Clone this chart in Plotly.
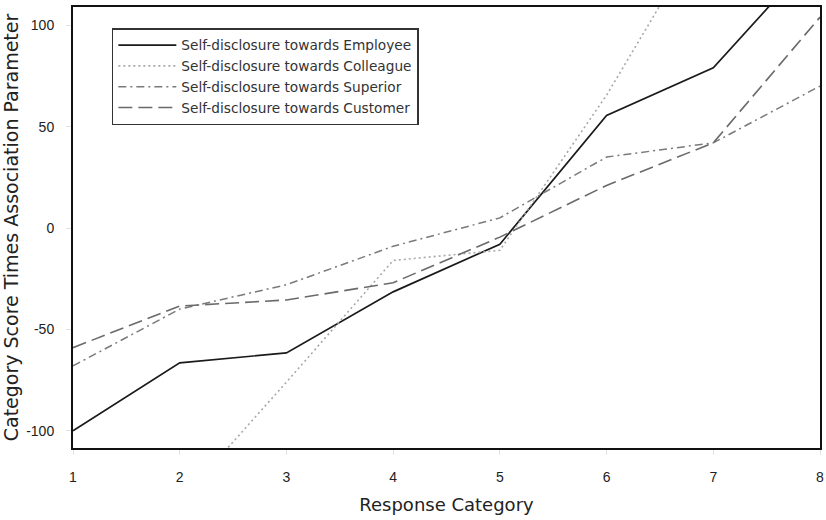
import plotly.graph_objects as go

categories = [1, 2, 3, 4, 5, 6, 7, 8]
employee = [-100, -66.5, -61.6, -31.5, -8, 55.5, 79, 137]
colleague = [-185, -135, -76, -16, -11, 65.5, 154, 220]
superior = [-68, -40, -28, -9, 5, 35, 42, 70]
customer = [-59, -38.5, -35.5, -27, -4.5, 21, 42, 104]

y_ticks = [-100, -50, 0, 50, 100]
y_ticktext = ["-100", "-50", "0", "50", "100"]
x_ticks = [1, 2, 3, 4, 5, 6, 7, 8]

tick_font = "Liberation Sans, Arial, Helvetica, sans-serif"
text_font = "DejaVu Sans, Liberation Sans, sans-serif"

fig = go.Figure()
fig.add_trace(go.Scatter(x=categories, y=employee, mode="lines",
                         name="Self-disclosure towards Employee",
                         line=dict(color="#1a1a1a", width=1.7, dash="solid")))
fig.add_trace(go.Scatter(x=categories, y=colleague, mode="lines",
                         name="Self-disclosure towards Colleague",
                         line=dict(color="#a8a8a8", width=1.6, dash="2px,3px")))
fig.add_trace(go.Scatter(x=categories, y=superior, mode="lines",
                         name="Self-disclosure towards Superior",
                         line=dict(color="#7a7a7a", width=1.5, dash="8px,4px,2px,4px")))
fig.add_trace(go.Scatter(x=categories, y=customer, mode="lines",
                         name="Self-disclosure towards Customer",
                         line=dict(color="#6a6a6a", width=1.6, dash="14px,6px")))

fig.update_layout(
    width=826, height=520,
    margin=dict(l=73, r=6, t=7, b=72, autoexpand=False),
    paper_bgcolor="white", plot_bgcolor="white",
    font=dict(family=tick_font, size=14, color="#222"),
    showlegend=True,
    legend=dict(x=0.052, y=0.952, xanchor="left", yanchor="top",
                bgcolor="white", bordercolor="#333", borderwidth=1.5,
                font=dict(family=text_font, size=13.7, color="#333"), tracegroupgap=0,
                itemwidth=58),
)
fig.update_xaxes(range=[1, 8], tickvals=x_ticks, showgrid=False, zeroline=False,
                 showline=True, linecolor="#111", linewidth=2, mirror=True,
                 ticks="outside", ticklen=5, tickcolor="#e2e2e2",
                 ticklabelstandoff=10, ticklabeloverflow="allow",
                 automargin=False,
                 tickfont=dict(family=tick_font, size=14, color="#222"),
                 title=dict(text="Response Category",
                            font=dict(family=text_font, size=18, color="#222"), standoff=15))
fig.update_yaxes(range=[-108.5, 109], tickvals=y_ticks, ticktext=y_ticktext,
                 showgrid=False, zeroline=False,
                 showline=True, linecolor="#111", linewidth=2, mirror=True,
                 ticks="outside", ticklen=5, tickcolor="#e2e2e2",
                 ticklabelstandoff=9, automargin=False,
                 tickfont=dict(family=tick_font, size=14, color="#222"),
                 title=dict(text="Category Score Times Association Parameter",
                            font=dict(family=text_font, size=19, color="#222"), standoff=5))

fig.write_html("out.html",
               config={"displayModeBar": False},
               post_script="document.body.style.margin='0';document.body.style.padding='0';")
